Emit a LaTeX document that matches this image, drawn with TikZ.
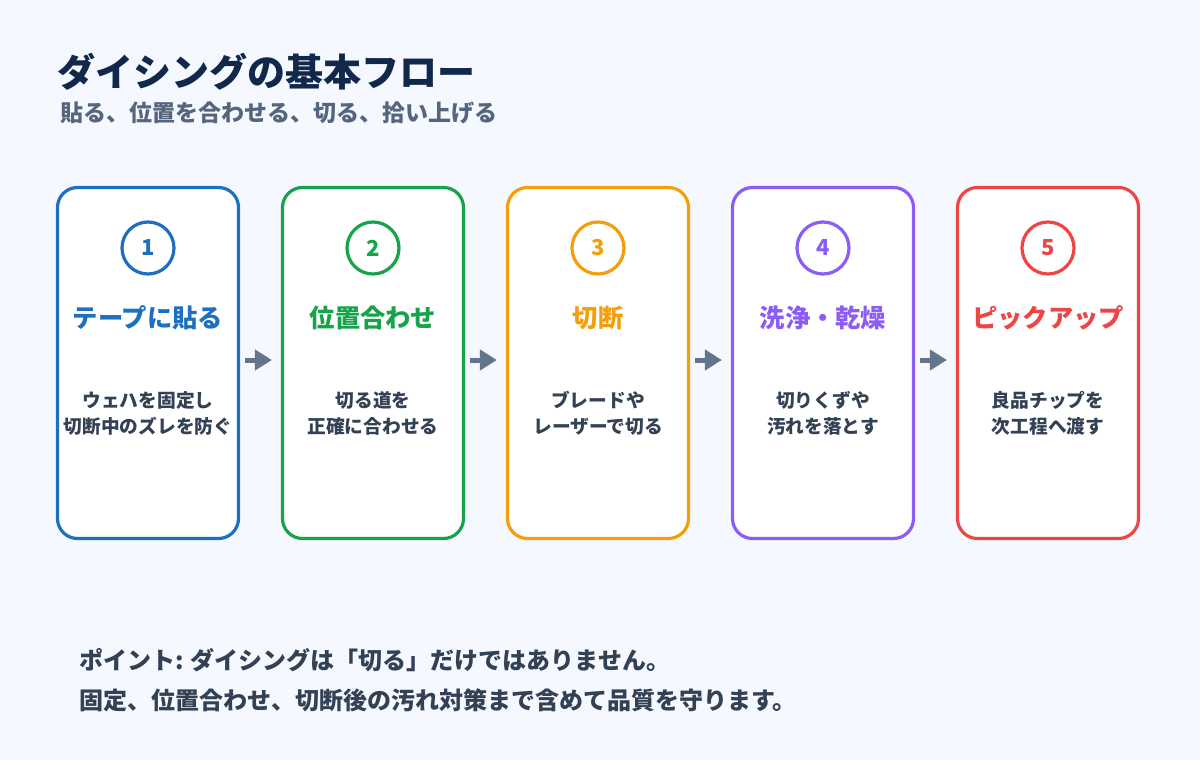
\documentclass[tikz,border=0pt]{standalone}
\usepackage{fontspec}
\setmainfont{Noto Sans CJK JP}
\usetikzlibrary{arrows.meta}
\definecolor{pagebg}{HTML}{F5F9FF}
\definecolor{headnavy}{HTML}{12284A}
\definecolor{subgray}{HTML}{55657D}
\definecolor{notegray}{HTML}{334155}
\definecolor{arrowgray}{HTML}{64748B}
\definecolor{stepblue}{HTML}{1E6FBF}
\definecolor{stepgreen}{HTML}{16A34A}
\definecolor{steporange}{HTML}{F59E0B}
\definecolor{steppurple}{HTML}{8B5CF6}
\definecolor{stepred}{HTML}{EF4444}

\begin{document}
\begin{tikzpicture}[x=1pt,y=-1pt,
    stepbox/.style={draw=#1,line width=3.2pt,fill=white,rounded corners=20pt,minimum width=181pt,minimum height=351pt,inner sep=0pt},
    numring/.style={circle,draw=#1,line width=3.2pt,fill=white,minimum size=52pt,inner sep=0pt,text=#1,font=\fontsize{22}{22}\selectfont\bfseries},
    steptitle/.style={text=#1,inner sep=0pt,font=\fontsize{25.3}{25.3}\selectfont\bfseries},
    stepnote/.style={text=notegray,align=center,inner sep=0pt,font=\fontsize{18.7}{26}\selectfont\bfseries},
    flow/.style={draw=arrowgray,line width=5pt,-{Triangle[length=17pt,width=20pt]},shorten <=5pt,shorten >=9pt}]
    \fill [pagebg] (0,0) rectangle (1200,760);
    \useasboundingbox (0,0) rectangle (1200,760);

    \node [anchor=west,inner sep=0pt,text=headnavy,font=\fontsize{38}{38}\selectfont\bfseries] (heading) at (57,72) {ダイシングの基本フロー};
    \node [anchor=west,inner sep=0pt,text=subgray,font=\fontsize{23}{23}\selectfont\bfseries] (subheading) at (60,113) {貼る、位置を合わせる、切る、拾い上げる};

    \node [stepbox=stepblue] (tape) at (148,363) {};
    \node [stepbox=stepgreen] (align) at (373,363) {};
    \node [stepbox=steporange] (cut) at (598,363) {};
    \node [stepbox=steppurple] (clean) at (823,363) {};
    \node [stepbox=stepred] (pick) at (1048,363) {};

    \node [numring=stepblue] (tapenum) at (148,248) {1};
    \node [numring=stepgreen] (alignnum) at (373,248) {2};
    \node [numring=steporange] (cutnum) at (598,248) {3};
    \node [numring=steppurple] (cleannum) at (823,248) {4};
    \node [numring=stepred] (picknum) at (1048,248) {5};

    \node [steptitle=stepblue] (tapetitle) at (148,318) {テープに貼る};
    \node [steptitle=stepgreen] (aligntitle) at (373,318) {位置合わせ};
    \node [steptitle=steporange] (cuttitle) at (598,318) {切断};
    \node [steptitle=steppurple] (cleantitle) at (823,318) {洗浄・乾燥};
    \node [steptitle=stepred] (picktitle) at (1048,318) {ピックアップ};

    \node [stepnote] (tapenote) at (148,413) {ウェハを固定し\\切断中のズレを防ぐ};
    \node [stepnote] (alignnote) at (373,413) {切る道を\\正確に合わせる};
    \node [stepnote] (cutnote) at (598,413) {ブレードや\\レーザーで切る};
    \node [stepnote] (cleannote) at (823,413) {切りくずや\\汚れを落とす};
    \node [stepnote] (picknote) at (1048,413) {良品チップを\\次工程へ渡す};

    \draw [flow] ([yshift=3pt]tape.east) -- ([yshift=3pt]align.west);
    \draw [flow] ([yshift=3pt]align.east) -- ([yshift=3pt]cut.west);
    \draw [flow] ([yshift=3pt]cut.east) -- ([yshift=3pt]clean.west);
    \draw [flow] ([yshift=3pt]clean.east) -- ([yshift=3pt]pick.west);

    \node [anchor=west,inner sep=0pt,text=notegray,font=\fontsize{24}{24}\selectfont\bfseries] (point) at (79,660) {ポイント: ダイシングは「切る」だけではありません。};
    \node [anchor=west,inner sep=0pt,text=notegray,font=\fontsize{24}{24}\selectfont\bfseries] (summary) at (79,700) {固定、位置合わせ、切断後の汚れ対策まで含めて品質を守ります。};
  \end{tikzpicture}
\end{document}
